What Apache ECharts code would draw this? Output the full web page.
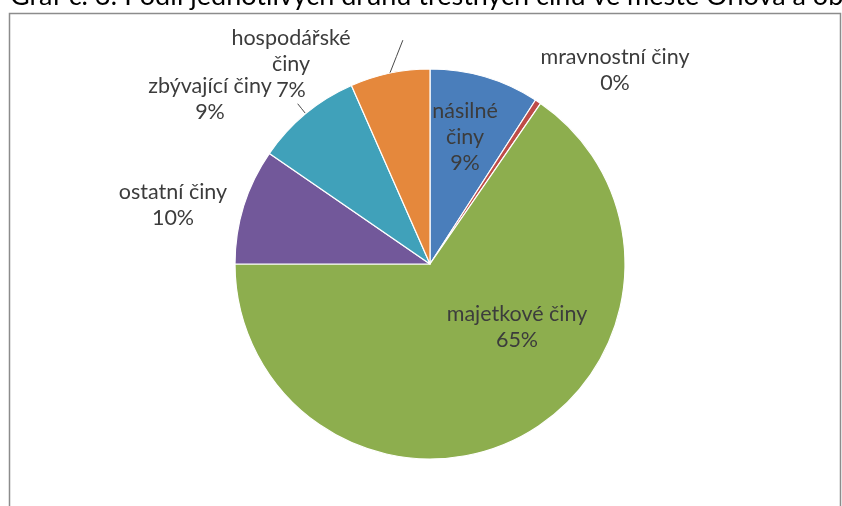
<!DOCTYPE html>
<html>
<head>
<meta charset="utf-8">
<title>Podíl jednotlivých druhů trestných činů</title>
<script src="https://cdn.jsdelivr.net/npm/echarts@6/dist/echarts.min.js"></script>
<style>
  html, body { margin: 0; padding: 0; background: #ffffff; }
  #chart { width: 842px; height: 506px; }
</style>
</head>
<body>
<div id="chart"></div>
<script>
// Crime categories and their shares (percent of all recorded offences)
const categories = ['násilné činy', 'mravnostní činy', 'majetkové činy', 'ostatní činy', 'zbývající činy', 'hospodářské činy'];
const shares = [9.1, 0.5, 65.4, 9.6, 8.8, 6.6];
// Label text split into lines for each category
const labelLines = [['násilné', 'činy'], ['mravnostní činy'], ['majetkové činy'], ['ostatní činy'], ['zbývající činy'], ['hospodářské', 'činy']];
const titleText = 'Graf č. 3: Podíl jednotlivých druhů trestných činů ve městě Orlová a obcích';

// Slice colours
const colors = ['#4A7EBB', '#BE4B48', '#8DAE4E', '#72589A', '#40A1BA', '#E5883C'];
// Label centres and short leader-line offsets (null = no leader line)
const labelCenters = [[465, 137], [615, 70], [517, 327], [173, 205], [210, 99], [291, 64]];
const leaderOffsets = [null, null, null, null, [-8, -10], [13, -33]];

const chart = echarts.init(document.getElementById('chart'), null, { renderer: 'canvas' });

const data = categories.map((name, i) => ({
  name: name,
  value: shares[i],
  itemStyle: { color: colors[i] },
  labelLine: { show: leaderOffsets[i] !== null }
}));

chart.setOption({
  animation: false,
  backgroundColor: '#ffffff',
  graphic: [
    {
      type: 'rect',
      silent: true,
      shape: { x: 9.5, y: 13.5, width: 831, height: 520 },
      style: { fill: 'none', stroke: '#8c8c8c', lineWidth: 1.5 }
    },
    {
      type: 'text',
      silent: true,
      x: 10,
      y: 10,
      style: {
        text: titleText,
        font: '27px Lato',
        fill: '#000000',
        verticalAlign: 'bottom'
      }
    }
  ],
  series: [{
    type: 'pie',
    center: [430, 264],
    radius: 195,
    startAngle: 90,
    clockwise: true,
    avoidLabelOverlap: false,
    percentPrecision: 0,
    data: data,
    itemStyle: { borderColor: '#ffffff', borderWidth: 1.2 },
    label: {
      show: true,
      position: 'outside',
      color: '#3c3c3c',
      fontFamily: 'Lato',
      fontSize: 21.5,
      lineHeight: 26,
      align: 'center',
      formatter: p => labelLines[p.dataIndex].concat([p.percent + '%']).join('\n')
    },
    labelLine: {
      length: 10,
      length2: 0,
      lineStyle: { color: '#4a4a4a', width: 1 }
    },
    labelLayout: function (params) {
      const i = params.dataIndex;
      const c = labelCenters[i];
      const out = { x: c[0], y: c[1], align: 'center', verticalAlign: 'middle' };
      const off = leaderOffsets[i];
      if (off && params.labelLinePoints) {
        const p0 = params.labelLinePoints[0];
        out.labelLinePoints = [[p0[0], p0[1]], [p0[0] + off[0] / 2, p0[1] + off[1] / 2], [p0[0] + off[0], p0[1] + off[1]]];
      }
      return out;
    }
  }]
});
</script>
</body>
</html>
